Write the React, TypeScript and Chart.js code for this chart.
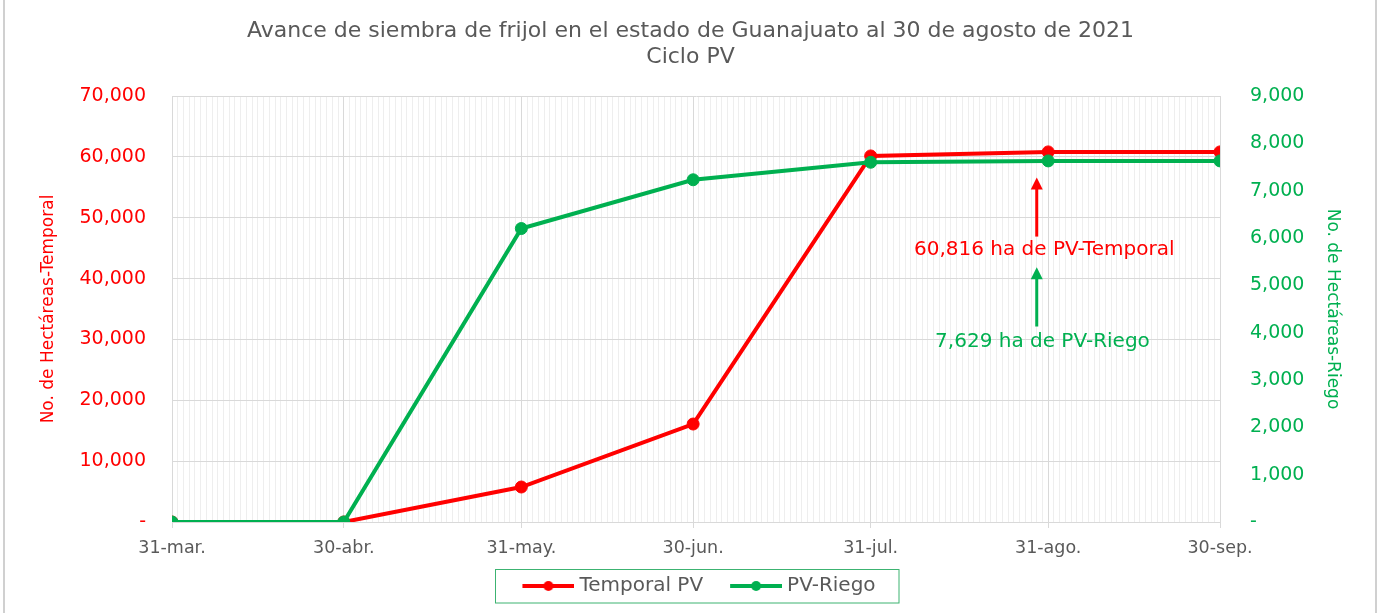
import React, { useEffect, useRef } from 'react';
import { Chart, registerables } from 'chart.js';

Chart.register(...registerables);

// ---- data ----
const dateLabels = ['31-mar.', '30-abr.', '31-may.', '30-jun.', '31-jul.', '31-ago.', '30-sep.'];
const dayOffsets = [0, 30, 61, 91, 122, 153, 183];
const temporalPV = [0, 0, 5750, 16100, 60150, 60816, 60816];
const riegoPV = [0, 0, 6200, 7230, 7600, 7629, 7629];
const seriesNames = ['Temporal PV', 'PV-Riego'];
const leftMax = 70000;
const rightMax = 9000;

// annotations (data coordinates: day offset, value on own axis)
const noteTexts = ['60,816 ha de PV-Temporal', '7,629 ha de PV-Riego'];
const noteArrowDay = [151, 151];
const noteArrowFrom = [46900, 4130];
const noteArrowTo = [56600, 5380];
const noteTextDay = [152.3, 152];
const noteTextValue = [44750, 3815];

const RED = '#ff0000';
const GREEN = '#00b050';
const GRAY_TEXT = '#595959';
const FONT = "'DejaVu Sans', sans-serif";
const MARK_GAP = 17; // space before each legend marker
const MARK_LEN = 52; // legend marker line length
const BOX_W = 64; // legend box width used by Chart.js
const CANVAS_W = 2 * (MARK_GAP + MARK_LEN) - BOX_W;

function makeLegendMarker(color: string) {
  const c = document.createElement('canvas');
  c.width = CANVAS_W;
  c.height = 14;
  const g = c.getContext('2d')!;
  const x0 = CANVAS_W - MARK_LEN;
  g.strokeStyle = color;
  g.lineWidth = 4;
  g.beginPath();
  g.moveTo(x0, 7);
  g.lineTo(CANVAS_W, 7);
  g.stroke();
  g.fillStyle = color;
  g.beginPath();
  g.arc(x0 + MARK_LEN / 2, 7, 5, 0, Math.PI * 2);
  g.fill();
  return c;
}

function fmt(v: number) {
  return v === 0 ? '-' : Number(v).toLocaleString('en-US');
}

const notesPlugin = {
  id: 'notesPlugin',
  afterDatasetsDraw(chart: any) {
    const { ctx, scales } = chart;
    const axes = [scales.y, scales.y1];
    const colors = [RED, GREEN];
    for (let i = 0; i < noteTexts.length; i++) {
      const ax = scales.x.getPixelForValue(noteArrowDay[i]);
      const yFrom = axes[i].getPixelForValue(noteArrowFrom[i]);
      const yTo = axes[i].getPixelForValue(noteArrowTo[i]);
      ctx.save();
      ctx.strokeStyle = colors[i];
      ctx.fillStyle = colors[i];
      ctx.lineWidth = 3;
      ctx.beginPath();
      ctx.moveTo(ax, yFrom);
      ctx.lineTo(ax, yTo + 10);
      ctx.stroke();
      ctx.beginPath();
      ctx.moveTo(ax, yTo);
      ctx.lineTo(ax - 6, yTo + 12);
      ctx.lineTo(ax + 6, yTo + 12);
      ctx.closePath();
      ctx.fill();
      ctx.font = `20px ${FONT}`;
      ctx.textAlign = 'center';
      ctx.textBaseline = 'middle';
      ctx.fillText(
        noteTexts[i],
        scales.x.getPixelForValue(noteTextDay[i]),
        axes[i].getPixelForValue(noteTextValue[i])
      );
      ctx.restore();
    }
  },
  afterDraw(chart: any) {
    const { ctx } = chart;
    const boxes = chart.legend?.legendHitBoxes || [];
    if (boxes.length) {
      let l = Infinity, r = -Infinity, t = Infinity, b = -Infinity;
      boxes.forEach((h: any) => {
        l = Math.min(l, h.left);
        r = Math.max(r, h.left + h.width);
        t = Math.min(t, h.top);
        b = Math.max(b, h.top + h.height);
      });
      ctx.save();
      ctx.strokeStyle = '#3cb371';
      ctx.lineWidth = 1;
      const x0 = Math.round(l + MARK_GAP - 27) + 0.5;
      const y0 = Math.round(t - 7) + 0.5;
      ctx.strokeRect(x0, y0, Math.round(r + 23) - x0, Math.round(b + 7) - y0);
      ctx.restore();
    }
    ctx.save();
    ctx.strokeStyle = '#d0d0d0';
    ctx.lineWidth = 2;
    ctx.beginPath();
    ctx.moveTo(4, 0);
    ctx.lineTo(4, chart.height);
    ctx.moveTo(1376, 0);
    ctx.lineTo(1376, chart.height);
    ctx.stroke();
    ctx.restore();
  },
};

export default function App() {
  const ref = useRef<HTMLCanvasElement>(null);
  useEffect(() => {
    document.body.style.margin = '0';
    const markers = [makeLegendMarker(RED), makeLegendMarker(GREEN)];
    const chart = new Chart(ref.current!, {
      type: 'line',
      data: {
        datasets: [
          {
            label: seriesNames[1],
            data: dayOffsets.map((d, i) => ({ x: d, y: riegoPV[i] })),
            yAxisID: 'y1',
            borderColor: GREEN,
            backgroundColor: GREEN,
            borderWidth: 4,
            pointRadius: 6,
            pointBorderWidth: 1,
            tension: 0,
          },
          {
            label: seriesNames[0],
            data: dayOffsets.map((d, i) => ({ x: d, y: temporalPV[i] })),
            yAxisID: 'y',
            borderColor: RED,
            backgroundColor: RED,
            borderWidth: 4,
            pointRadius: 6,
            pointBorderWidth: 1,
            tension: 0,
          },
        ],
      },
      options: {
        responsive: false,
        animation: false,
        layout: { padding: { left: 0, right: 0, top: 0, bottom: 7 } },
        scales: {
          x: {
            type: 'linear',
            min: dayOffsets[0],
            max: dayOffsets[dayOffsets.length - 1],
            afterBuildTicks(scale: any) {
              const t = [];
              for (let d = dayOffsets[0]; d <= dayOffsets[dayOffsets.length - 1]; d++) t.push({ value: d });
              scale.ticks = t;
            },
            afterFit(scale: any) {
              scale.height = 44;
            },
            ticks: {
              autoSkip: false,
              maxRotation: 0,
              padding: 10,
              color: GRAY_TEXT,
              font: { family: FONT, size: 17.5 },
              callback(value: any) {
                const i = dayOffsets.indexOf(Number(value));
                return i >= 0 ? dateLabels[i] : '';
              },
            },
            grid: {
              drawTicks: true,
              tickLength: 6,
              color(ctx: any) {
                return dayOffsets.includes(ctx.tick?.value) ? '#d9d9d9' : '#eeeeee';
              },
              tickColor(ctx: any) {
                return dayOffsets.includes(ctx.tick?.value) ? '#d9d9d9' : 'rgba(0,0,0,0)';
              },
            },
            border: { color: '#d9d9d9' },
          },
          y: {
            type: 'linear',
            position: 'left',
            min: 0,
            max: leftMax,
            afterFit(scale: any) {
              scale.width = 172;
            },
            ticks: {
              stepSize: 10000,
              padding: 26,
              color: RED,
              font: { family: FONT, size: 19 },
              callback: (v: any) => fmt(v),
            },
            grid: { color: '#d9d9d9', drawTicks: false },
            border: { color: '#d9d9d9' },
            title: {
              display: true,
              text: 'No. de Hectáreas-Temporal',
              color: RED,
              font: { family: FONT, size: 17 },
              padding: { top: 38, bottom: 0 },
            },
          },
          y1: {
            type: 'linear',
            position: 'right',
            min: 0,
            max: rightMax,
            afterFit(scale: any) {
              scale.width = 161;
            },
            ticks: {
              stepSize: 1000,
              padding: 30,
              color: GREEN,
              font: { family: FONT, size: 19 },
              callback: (v: any) => fmt(v),
            },
            grid: { display: false, drawTicks: false },
            border: { color: '#d9d9d9' },
            title: {
              display: true,
              text: 'No. de Hectáreas-Riego',
              color: GREEN,
              font: { family: FONT, size: 17 },
              padding: { top: 38, bottom: 0 },
            },
          },
        },
        plugins: {
          title: {
            display: true,
            text: ['Avance de siembra de frijol en el estado de Guanajuato al 30 de agosto de 2021', 'Ciclo PV'],
            color: GRAY_TEXT,
            font: { family: FONT, size: 22, weight: 'normal', lineHeight: 26 / 22 },
            padding: { top: 18, bottom: 26 },
          },
          legend: {
            position: 'bottom',
            labels: {
              usePointStyle: true,
              pointStyleWidth: BOX_W,
              padding: 10,
              color: GRAY_TEXT,
              font: { family: FONT, size: 20 },
              generateLabels(ch: any) {
                return [1, 0].map((dsIndex, k) => ({
                  text: seriesNames[k],
                  datasetIndex: dsIndex,
                  pointStyle: markers[k],
                  fillStyle: k === 0 ? RED : GREEN,
                  strokeStyle: k === 0 ? RED : GREEN,
                  lineWidth: 0,
                  fontColor: GRAY_TEXT,
                  hidden: !ch.isDatasetVisible(dsIndex),
                }));
              },
            },
          },
          tooltip: { enabled: false },
        },
      },
      plugins: [notesPlugin],
    } as any);
    return () => chart.destroy();
  }, []);
  return (
    <div style={{ width: 1381, height: 613 }}>
      <canvas ref={ref} width={1381} height={613} style={{ display: 'block' }} />
    </div>
  );
}
